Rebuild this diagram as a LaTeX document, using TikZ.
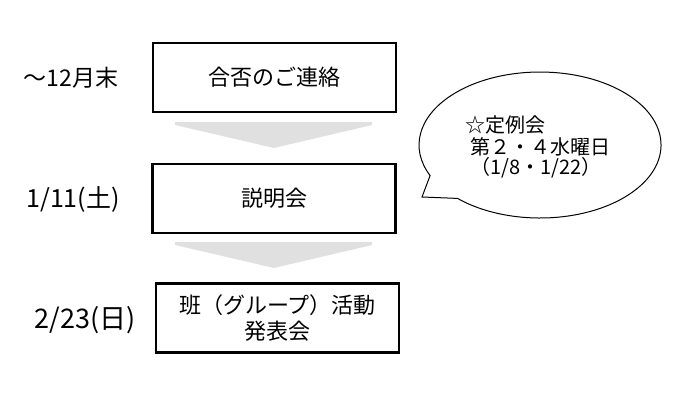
\documentclass[tikz,border=0pt]{standalone}
\usepackage{fontspec}
\setmainfont{Noto Sans CJK JP}
\usepackage{tikz}

\begin{document}
\begin{tikzpicture}[x=1pt,y=1pt,
  stepbox/.style={draw,line width=2.5pt,minimum width=243pt,minimum height=69pt,align=center,font=\fontsize{22}{26}\selectfont},
  datelabel/.style={font=\fontsize{23}{26}\selectfont},
  memo/.style={anchor=west,font=\fontsize{20}{22}\selectfont},
  chevron/.style={fill=black!12}]
\useasboundingbox (0,0) rectangle (692,408);
\foreach \s in {0,120}
\fill[chevron,shift={(0,-\s)}] (175,286) -- (372,286) -- (372,283) -- (274,260) -- (175,283) -- cycle;
\node[stepbox] (notice) at (274.5,330.5) {合否のご連絡};
\node[stepbox] (briefing) at (274,209.5) {説明会};
\node[stepbox] (present) at (277.5,90) {班（グループ）活動\\発表会};
\node[datelabel] (d1) at (71,330.5) {～12月末};
\node[datelabel,font=\fontsize{25}{28}\selectfont] (d2) at (73,209) {1/11(土)};
\node[datelabel,font=\fontsize{27}{30}\selectfont] (d3) at (85,88) {2/23(日)};
\draw[line width=1pt,fill=white] (457.5,209.6) arc[start angle=227,end angle=564.7,x radius=121pt,y radius=73pt] -- (422,211) -- cycle;
\node[memo] (m1) at (462,283) {☆定例会};
\node[memo] (m2) at (467,261) {第２・４水曜日};
\node[memo] (m3) at (467,240) {（1/8・1/22）};
\end{tikzpicture}
\end{document}
